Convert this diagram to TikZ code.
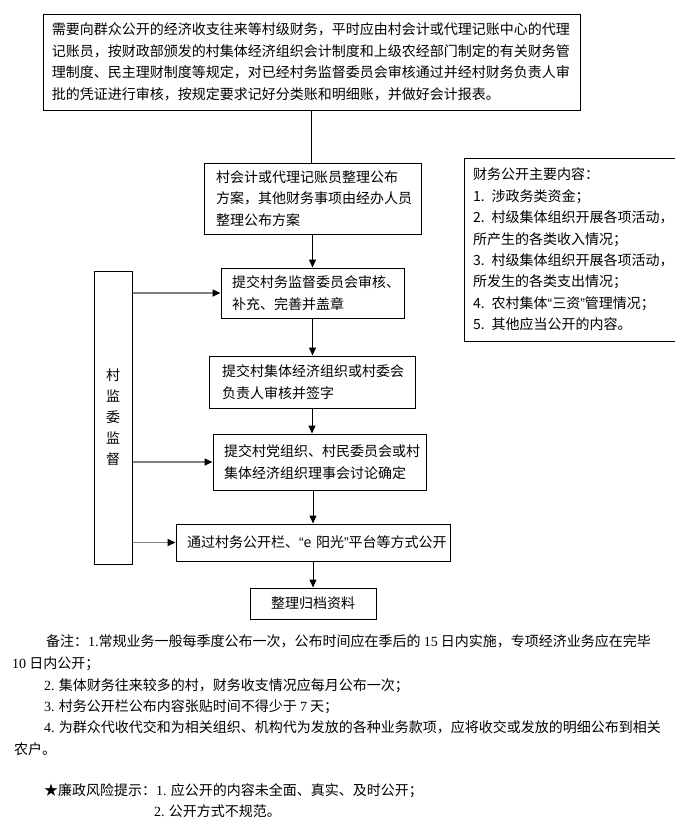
\documentclass[tikz,border=0pt]{standalone}
\usepackage{fontspec}
\setmainfont{Noto Sans CJK SC}
\newfontfamily\latinsans{Liberation Sans}
\newfontfamily\latinserif{Liberation Serif}
\usepackage{xcolor}
\usepackage{tikz}
\usetikzlibrary{shapes,arrows,arrows.meta,positioning,calc}
\definecolor{linkgray}{RGB}{128,128,128}
\newcommand{\boxfont}{\fontsize{14pt}{21.5pt}\selectfont}
\newcommand{\notefont}{\fontsize{14pt}{21.5pt}\selectfont}
\newcommand{\qopen}{{\latinsans “}}
\newcommand{\qclose}{{\latinsans ”}}
\tikzset{
    flowbox/.style={draw, line width=1pt, inner ysep=0pt, align=left, font=\boxfont},
    flowarrow/.style={line width=1pt, -{Triangle[length=8pt,width=7pt]}},
    sidearrow/.style={draw=linkgray, line width=1.6pt, -{Triangle[length=8pt,width=7pt,color=black]}},
    noteline/.style={anchor=base west, inner sep=0pt, font=\notefont},
}

\begin{document}
\begin{tikzpicture}[x=1pt,y=-1pt]
    \useasboundingbox (0,0) rectangle (675,831);
    \node[flowbox, inner xsep=9pt, text width=519pt, minimum height=96pt] (source) at (311.5,62) {需要向群众公开的经济收支往来等村级财务，平时应由村会计或代理记账中心的代理\\记账员，按财政部颁发的村集体经济组织会计制度和上级农经部门制定的有关财务管\\理制度、民主理财制度等规定，对已经村务监督委员会审核通过并经村财务负责人审\\批的凭证进行审核，按规定要求记好分类账和明细账，并做好会计报表。};
    \node[flowbox, inner xsep=12pt, text width=193pt, minimum height=71pt] (draft) at (312.5,198.5) {村会计或代理记账员整理公布\\方案，其他财务事项由经办人员\\整理公布方案};
    \node[flowbox, inner xsep=11pt, text width=161pt, minimum height=50pt] (audit) at (312.5,293) {提交村务监督委员会审核、\\补充、完善并盖章};
    \node[flowbox, inner xsep=13pt, text width=180pt, minimum height=52pt] (sign) at (312,382) {提交村集体经济组织或村委会\\负责人审核并签字};
    \node[flowbox, inner xsep=11pt, text width=252pt, minimum height=37pt] (publish) at (313,542.5) {\mbox{通过村务公开栏、\qopen e~阳光\qclose 平台等方式公开}};
    \node[flowbox, inner xsep=11pt, text width=191pt, minimum height=56pt] (discuss) at (319.5,462) {提交村党组织、村民委员会或村\\集体经济组织理事会讨论确定};
    \node[flowbox, inner xsep=21pt, text width=84pt, align=center, minimum height=31pt] (archive) at (313,603.5) {整理归档资料};
    \node[flowbox, inner xsep=12pt, text width=14pt, align=center, minimum height=293pt, font=\fontsize{14pt}{21pt}\selectfont] (supervise) at (113,417.5) {村\\监\\委\\监\\督};
    \node[flowbox, inner xsep=9pt, text width=238pt, minimum height=183pt, font=\fontsize{14pt}{21.4pt}\selectfont] (contents) at (592,249.5) {财务公开主要内容：\\1. 涉政务类资金；\\2. 村级集体组织开展各项活动，\\所产生的各类收入情况；\\3. 村级集体组织开展各项活动，\\所发生的各类支出情况；\\4. 农村集体\qopen 三资\qclose 管理情况；\\5. 其他应当公开的内容。};

    \draw[line width=1pt] (source.south) -- (source.south |- draft.north);
    \draw[flowarrow] (draft.south) -- (draft.south |- audit.north);
    \draw[flowarrow] (audit.south) -- (audit.south |- sign.north);
    \draw[flowarrow] (sign.south) -- (sign.south |- discuss.north);
    \draw[flowarrow] (publish.north |- discuss.south) -- (publish.north);
    \draw[flowarrow] (publish.south) -- (publish.south |- archive.north);
    \draw[sidearrow] (audit.west -| supervise.east) -- (audit.west);
    \draw[sidearrow] (discuss.west -| supervise.east) -- (discuss.west);
    \draw[sidearrow] (publish.west -| supervise.east) -- (publish.west);

    \node[noteline] (note1) at (46,646) {备注：{\latinserif 1.}常规业务一般每季度公布一次，公布时间应在季后的 {\latinserif 15} 日内实施，专项经济业务应在完毕};
    \node[noteline] (note1b) at (12,668) {{\latinserif 10} 日内公开；};
    \node[noteline] (note2) at (44,690) {{\latinserif 2.} 集体财务往来较多的村，财务收支情况应每月公布一次；};
    \node[noteline] (note3) at (44,711) {{\latinserif 3.} 村务公开栏公布内容张贴时间不得少于 {\latinserif 7} 天；};
    \node[noteline] (note4) at (44,732) {{\latinserif 4.} 为群众代收代交和为相关组织、机构代为发放的各种业务款项，应将收交或发放的明细公布到相关};
    \node[noteline] (note4b) at (14,754) {农户。};
    \node[noteline] (risk1) at (44,795) {★廉政风险提示：{\latinserif 1.} 应公开的内容未全面、真实、及时公开；};
    \node[noteline] (risk2) at (154,816) {{\latinserif 2.} 公开方式不规范。};
\end{tikzpicture}
\end{document}
